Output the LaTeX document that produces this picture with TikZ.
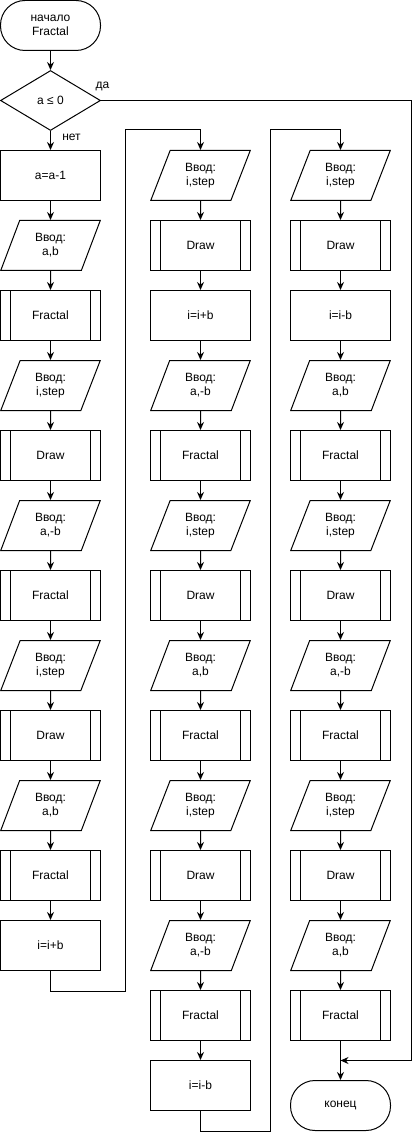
\documentclass[tikz,border=0pt]{standalone}
\usepackage{fontspec}
\setmainfont{Liberation Sans}
\usepackage{tikz}
\usetikzlibrary{shapes,arrows.meta,positioning}

\begin{document}
\begin{tikzpicture}[x=1pt, y=-1pt, line width=1pt,
    every node/.style={font=\fontsize{12pt}{14pt}\selectfont, inner sep=0pt},
    term/.style={draw, rectangle, rounded corners=24.5pt, minimum width=100pt, minimum height=50pt, align=center},
    cond/.style={draw, diamond, minimum width=100pt, minimum height=60pt},
    proc/.style={draw, rectangle, minimum width=100pt, minimum height=50pt},
    io/.style={draw, trapezium, trapezium left angle=68.2, trapezium right angle=111.8,
        trapezium stretches=true, minimum width=100pt, minimum height=50pt, align=center},
    sub/.style={proc, path picture={
        \draw ([xshift=10pt]path picture bounding box.north west) -- ([xshift=10pt]path picture bounding box.south west);
        \draw ([xshift=-10pt]path picture bounding box.north east) -- ([xshift=-10pt]path picture bounding box.south east);}},
    arr/.style={-{Stealth[length=8pt, width=7pt]}}]
    \useasboundingbox (-0.5,-0.5) rectangle (418.5,1138.5);

    % начало и условие
    \node[term] (start) at (50,25) {начало\\Fractal};
    \node[cond] (dec) at (50,100) {a ≤ 0};
    \node (yes) at (102,86) {да};
    \node (no) at (71,137) {нет};
    \draw[arr] (start) -- (dec);

    % первый столбец
    \foreach \sh/\txt [count=\i] in {proc/a=a-1, io/{Ввод:\\a,b}, sub/Fractal, io/{Ввод:\\i,step},
        sub/Draw, io/{Ввод:\\a,-b}, sub/Fractal, io/{Ввод:\\i,step}, sub/Draw, io/{Ввод:\\a,b},
        sub/Fractal, proc/i=i+b} {
        \node[\sh] (c1-\i) at (50,105+70*\i) {\txt};
    }
    \draw[arr] (dec) -- (c1-1);
    \foreach \a [count=\b from 2] in {1,...,11} {
        \draw[arr] (c1-\a) -- (c1-\b);
    }

    % второй столбец
    \foreach \sh/\txt [count=\i] in {io/{Ввод:\\i,step}, sub/Draw, proc/i=i+b, io/{Ввод:\\a,-b},
        sub/Fractal, io/{Ввод:\\i,step}, sub/Draw, io/{Ввод:\\a,b}, sub/Fractal, io/{Ввод:\\i,step},
        sub/Draw, io/{Ввод:\\a,-b}, sub/Fractal, proc/i=i-b} {
        \node[\sh] (c2-\i) at (200,105+70*\i) {\txt};
    }
    \foreach \a [count=\b from 2] in {1,...,13} {
        \draw[arr] (c2-\a) -- (c2-\b);
    }
    \draw[arr] (c1-12.south) -- ++(0,20) -- ++(75,0) |- ([yshift=20pt]c2-1.north) -- (c2-1.north);

    % третий столбец
    \foreach \sh/\txt [count=\i] in {io/{Ввод:\\i,step}, sub/Draw, proc/i=i-b, io/{Ввод:\\a,b},
        sub/Fractal, io/{Ввод:\\i,step}, sub/Draw, io/{Ввод:\\a,-b}, sub/Fractal, io/{Ввод:\\i,step},
        sub/Draw, io/{Ввод:\\a,b}, sub/Fractal} {
        \node[\sh] (c3-\i) at (340,105+70*\i) {\txt};
    }
    \foreach \a [count=\b from 2] in {1,...,12} {
        \draw[arr] (c3-\a) -- (c3-\b);
    }
    \draw[arr] (c2-14.south) -- ++(0,20) -- ++(70,0) |- ([yshift=20pt]c3-1.north) -- (c3-1.north);

    % конец
    \node[term] (end) at (340,1105) {конец};
    \coordinate (join) at (340,1060);
    \draw[arr] (c3-13) -- (end);
    \draw[arr] (dec.east) -- ++(310,0) |- (join);
\end{tikzpicture}
\end{document}
